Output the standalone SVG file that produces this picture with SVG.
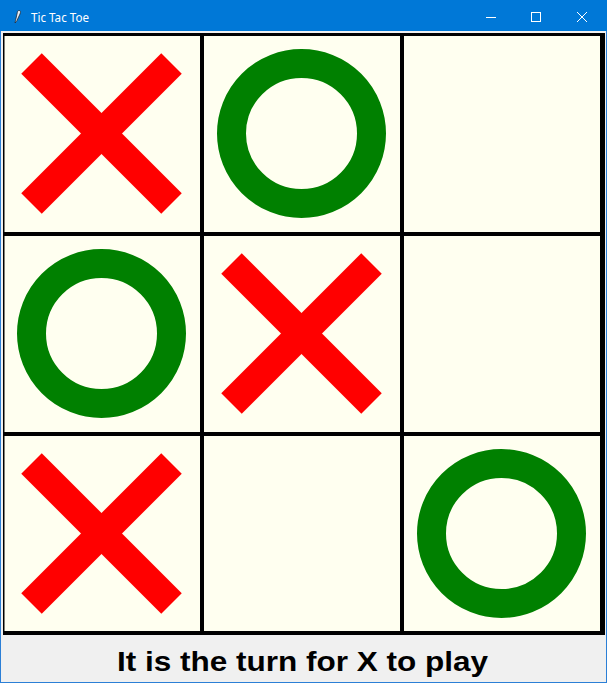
<svg xmlns="http://www.w3.org/2000/svg" width="607" height="683" viewBox="0 0 607 683">
<style>
.x{stroke:#FF0000;stroke-width:29;stroke-linecap:butt;fill:none}
.o{stroke:#008000;stroke-width:29;fill:none}
.grid{stroke:#000;stroke-width:4}
.title{font-family:"Segoe UI","Noto Sans","Liberation Sans",sans-serif;font-size:12px;fill:#fff}
.status{font-family:"Comic Sans MS","Liberation Sans",sans-serif;font-weight:bold;font-size:27px;fill:#000}
.ctl{stroke:#fff;stroke-width:1;fill:none}
</style>
<defs>
<g id="xmark"><line class="x" x1="-70" y1="-70" x2="70" y2="70"/><line class="x" x1="70" y1="-70" x2="-70" y2="70"/></g>
<g id="omark"><circle class="o" cx="0" cy="0" r="70"/></g>
</defs>
<g id="window">
<rect x="0" y="0" width="607" height="683" fill="#F0F0F0"/>
<rect x="0" y="0" width="607" height="31" fill="#0078D7"/>
<rect x="0" y="31" width="1" height="652" fill="#2B7FD6"/>
<rect x="606" y="31" width="1" height="652" fill="#2B7FD6"/>
<rect x="0" y="682" width="607" height="1" fill="#2B7FD6"/>
</g>
<g id="titlebar">
<path d="M18.5,10.5 C20.5,10 21,12 20,14 L16.5,21.5 L15,23 L15.5,20.5 L17,14 C17.3,12.3 17.5,11 18.5,10.5 Z" fill="#E8EEF5" stroke="#1E2A3A" stroke-width="0.8"/>
<text class="title" x="31" y="21.5" textLength="58" lengthAdjust="spacingAndGlyphs">Tic Tac Toe</text>
<line class="ctl" x1="486" y1="17.5" x2="496" y2="17.5"/>
<rect class="ctl" x="531.5" y="12.5" width="9" height="9"/>
<line class="ctl" x1="577" y1="12" x2="587" y2="22"/>
<line class="ctl" x1="587" y1="12" x2="577" y2="22"/>
</g>
<g id="board">
<rect x="3" y="33" width="602" height="602" fill="#000"/>
<rect x="4.5" y="36" width="595.5" height="595" fill="#FFFFF0"/>
</g>
<g id="connectors">
<line class="grid" x1="202" y1="34" x2="202" y2="634"/>
<line class="grid" x1="402" y1="34" x2="402" y2="634"/>
<line class="grid" x1="3" y1="234" x2="604" y2="234"/>
<line class="grid" x1="3" y1="434" x2="604" y2="434"/>
</g>
<g id="cell-0-0"><use href="#xmark" x="101.5" y="133.5"/></g>
<g id="cell-0-1"><use href="#omark" x="301.5" y="133.5"/></g>
<g id="cell-1-0"><use href="#omark" x="101.5" y="333.5"/></g>
<g id="cell-1-1"><use href="#xmark" x="301.5" y="333.5"/></g>
<g id="cell-2-0"><use href="#xmark" x="101.5" y="533.5"/></g>
<g id="cell-2-2"><use href="#omark" x="501.5" y="533.5"/></g>
<g id="status">
<text class="status" x="302.5" y="670.5" text-anchor="middle" textLength="371" lengthAdjust="spacingAndGlyphs">It is the turn for X to play</text>
</g>
</svg>
